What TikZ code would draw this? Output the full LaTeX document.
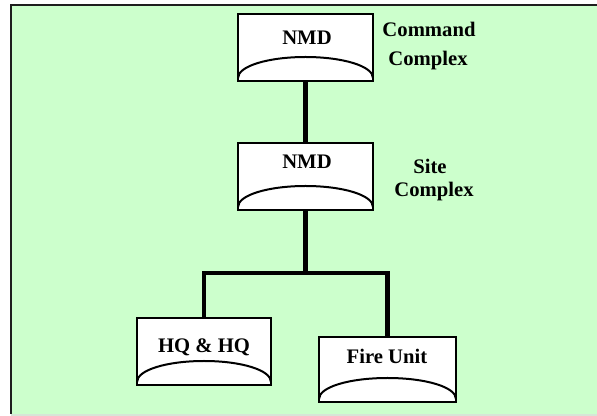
\documentclass[tikz,border=0pt]{standalone}
\usepackage{fontspec}
\setmainfont{Liberation Serif}
\usetikzlibrary{calc}
\definecolor{bggreen}{HTML}{CCFFCC}
\definecolor{framegray}{HTML}{1E1E1E}
\definecolor{lightline}{HTML}{D6E6D6}
\begin{document}
\begin{tikzpicture}[x=0.75pt,y=-0.75pt,
  unitbox/.style={draw=black, line width=1.5pt, fill=white, inner sep=0pt, outer sep=0pt, minimum height=50.25pt},
  arcline/.style={draw=black, line width=1.5pt},
  conn/.style={draw=black, line width=3.6pt},
  lbl/.style={font=\bfseries\fontsize{15.5pt}{17pt}\selectfont, inner sep=0pt, anchor=base},
  frameline/.style={draw=framegray, line width=1.6pt}
]
\useasboundingbox (0,0) rectangle (597,416);
\fill[bggreen] (11,5) rectangle (597,414);
\draw[lightline, line width=1pt] (11,415) -- (597,415);
\draw[frameline] (11,414) -- (11,5) -- (597,5);

% boxes
\node[unitbox, minimum width=101.25pt] (b1) at (305.5,47.5) {};
\node[unitbox, minimum width=101.25pt] (b2) at (305.5,176.5) {};
\node[unitbox, minimum width=100.5pt] (b3) at (204,351.5) {};
\node[unitbox, minimum width=102.75pt, minimum height=48.75pt] (b4) at (387.5,369.5) {};

% arcs inside boxes
\foreach \b/\k in {b1/37,b2/37,b3/37,b4/38}{
  \draw[arcline] ($(\b.south west)+(0,-3)$) .. controls +(0,-12) and +(-\k,0) .. ($(\b.south)+(0,-24)$)
    .. controls +(\k,0) and +(0,-12) .. ($(\b.south east)+(0,-3)$);
}

% labels
\node[lbl] (t1) at (307,45) {NMD};
\node[lbl] (t2) at (307,169) {NMD};
\node[lbl] (t3) at (204,353) {HQ \& HQ};
\node[lbl] (t4) at (387,364) {Fire Unit};
\node[lbl] (c1) at (429,37) {Command};
\node[lbl] (c2) at (428,66) {Complex};
\node[lbl] (s1) at (430,174) {Site};
\node[lbl] (s2) at (434,197) {Complex};

% connectors
\coordinate (j) at (305.5,273);
\draw[conn] (b1.south) -- (b2.north);
\draw[conn] (b2.south) -- (j);
\draw[conn] (j) -| (b3.north);
\draw[conn] (j) -| (b4.north);
\end{tikzpicture}
\end{document}
